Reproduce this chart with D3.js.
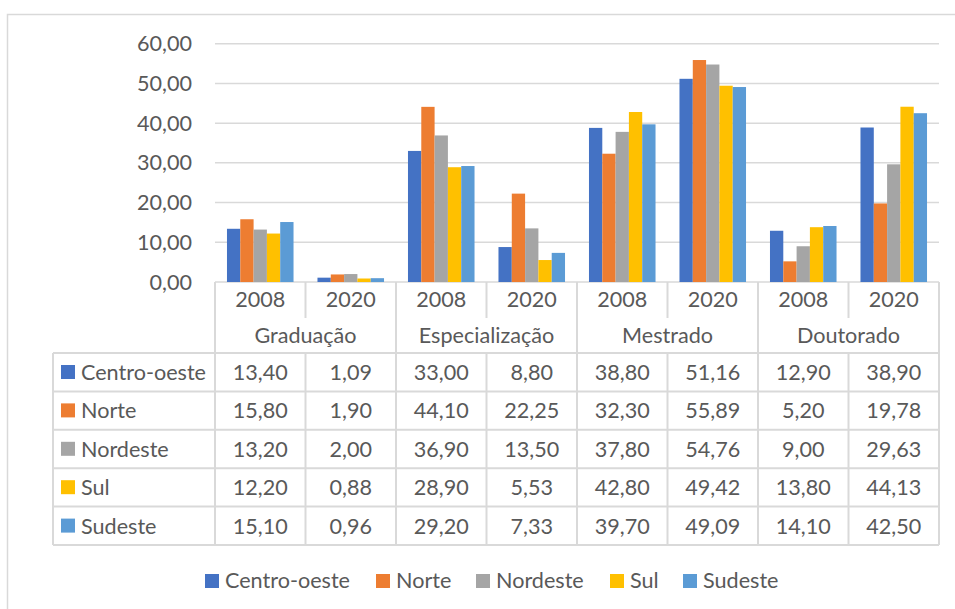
<!DOCTYPE html>
<html>
<head>
<meta charset="utf-8">
<script src="https://cdn.jsdelivr.net/npm/d3@7"></script>
<style>
  body { margin: 0; background: #fff; }
  svg { display: block; font-family: Lato, "Liberation Sans", sans-serif; }
</style>
</head>
<body>
<div id="chart"></div>
<script>
// Chart data
const levels = ['Graduação', 'Especialização', 'Mestrado', 'Doutorado'];
const years = ['2008', '2020'];
const regions = ['Centro-oeste', 'Norte', 'Nordeste', 'Sul', 'Sudeste'];
const centroOeste = [13.40, 1.09, 33.00, 8.80, 38.80, 51.16, 12.90, 38.90];
const norte = [15.80, 1.90, 44.10, 22.25, 32.30, 55.89, 5.20, 19.78];
const nordeste = [13.20, 2.00, 36.90, 13.50, 37.80, 54.76, 9.00, 29.63];
const sul = [12.20, 0.88, 28.90, 5.53, 42.80, 49.42, 13.80, 44.13];
const sudeste = [15.10, 0.96, 29.20, 7.33, 39.70, 49.09, 14.10, 42.50];
const yTicks = [0, 10, 20, 30, 40, 50, 60];
const colors = ['#4472C4', '#ED7D31', '#A5A5A5', '#FFC000', '#5B9BD5'];

const seriesValues = [centroOeste, norte, nordeste, sul, sudeste];
const columns = levels.flatMap(l => years.map(y => ({ level: l, year: y, key: l + '|' + y })));

const W = 955, H = 609;
const fontSize = 21.6;
const textColor = '#595959';
const lineColor = '#D9D9D9';
const fmt = v => d3.format('.2f')(v).replace('.', ',');

const plot = { left: 215, right: 939, top: 43.7, bottom: 282 };
const yearRowH = 36, levelRowH = 35, rowH = 38.4;
const tableLeft = 53;

const svg = d3.select('#chart').append('svg')
  .attr('width', W).attr('height', H);

// Outer chart frame
svg.append('rect')
  .attr('x', 7.5).attr('y', 14.5)
  .attr('width', W + 10).attr('height', H + 10)
  .attr('fill', 'none').attr('stroke', lineColor).attr('stroke-width', 1.5);

const x = d3.scaleBand().domain(columns.map(c => c.key)).range([plot.left, plot.right]);
const xs = d3.scaleBand().domain(regions).range([0, x.bandwidth()]).paddingOuter(0.9);
const y = d3.scaleLinear().domain([0, 60]).range([plot.bottom, plot.top]);

// Gridlines
svg.append('g').selectAll('line')
  .data(yTicks)
  .join('line')
  .attr('x1', plot.left).attr('x2', plot.right)
  .attr('y1', d => y(d)).attr('y2', d => y(d))
  .attr('stroke', lineColor).attr('stroke-width', 1.5);

// Y axis labels
svg.append('g').selectAll('text')
  .data(yTicks)
  .join('text')
  .attr('x', 192).attr('y', d => y(d))
  .attr('dy', '0.35em')
  .attr('text-anchor', 'end')
  .attr('font-size', fontSize).attr('fill', textColor)
  .text(d => fmt(d));

// Bars
const barData = regions.flatMap((r, i) => seriesValues[i].map((v, j) => ({ region: r, idx: i, col: columns[j].key, value: v })));
svg.append('g').selectAll('rect')
  .data(barData)
  .join('rect')
  .attr('x', d => x(d.col) + xs(d.region))
  .attr('width', xs.bandwidth())
  .attr('y', d => y(d.value))
  .attr('height', d => y(0) - y(d.value))
  .attr('fill', d => colors[d.idx]);

// Data table
const tYear = plot.bottom, tLevel = tYear + yearRowH, tData = tLevel + levelRowH;
const tBottom = tData + rowH * regions.length;
const grid = svg.append('g').attr('stroke', lineColor).attr('stroke-width', 2);

// vertical lines
columns.forEach((c, i) => {
  const xx = x(c.key);
  grid.append('line').attr('x1', xx).attr('x2', xx)
    .attr('y1', tYear).attr('y2', i % 2 === 0 ? tBottom : tLevel);
  if (i % 2 === 1) {
    grid.append('line').attr('x1', xx).attr('x2', xx).attr('y1', tData).attr('y2', tBottom);
  }
});
grid.append('line').attr('x1', plot.right).attr('x2', plot.right).attr('y1', tYear).attr('y2', tBottom);
grid.append('line').attr('x1', tableLeft).attr('x2', tableLeft).attr('y1', tData).attr('y2', tBottom);

// horizontal lines
d3.range(regions.length + 1).forEach(i => {
  const yy = tData + i * rowH;
  grid.append('line').attr('x1', tableLeft).attr('x2', plot.right).attr('y1', yy).attr('y2', yy);
});

// Year labels
svg.append('g').selectAll('text')
  .data(columns)
  .join('text')
  .attr('x', d => x(d.key) + x.bandwidth() / 2)
  .attr('y', tYear + 25)
  .attr('text-anchor', 'middle')
  .attr('font-size', fontSize).attr('fill', textColor)
  .text(d => d.year);

// Level labels
svg.append('g').selectAll('text')
  .data(levels)
  .join('text')
  .attr('x', (d, i) => x(columns[i * 2].key) + x.bandwidth())
  .attr('y', tLevel + 25)
  .attr('text-anchor', 'middle')
  .attr('font-size', fontSize).attr('fill', textColor)
  .text(d => d);

// Row headers with keys
const rows = svg.append('g').selectAll('g')
  .data(regions)
  .join('g')
  .attr('transform', (d, i) => `translate(0,${tData + i * rowH})`);
rows.append('rect')
  .attr('x', 61).attr('y', 12).attr('width', 14).attr('height', 14)
  .attr('fill', (d, i) => colors[i]);
rows.append('text')
  .attr('x', 81).attr('y', 27)
  .attr('font-size', fontSize).attr('fill', textColor)
  .text(d => d);

// Cell values
rows.each(function (r, i) {
  d3.select(this).selectAll('text.val')
    .data(seriesValues[i])
    .join('text')
    .attr('class', 'val')
    .attr('x', (d, j) => x(columns[j].key) + x.bandwidth() / 2)
    .attr('y', 27)
    .attr('text-anchor', 'middle')
    .attr('font-size', fontSize).attr('fill', textColor)
    .text(d => fmt(d));
});

// Legend
const legendX = [205, 376, 476, 610, 683];
const legend = svg.append('g').selectAll('g')
  .data(regions)
  .join('g')
  .attr('transform', (d, i) => `translate(${legendX[i]},574)`);
legend.append('rect')
  .attr('width', 14).attr('height', 14)
  .attr('fill', (d, i) => colors[i]);
legend.append('text')
  .attr('x', 20).attr('y', 14)
  .attr('font-size', fontSize).attr('fill', textColor)
  .text(d => d);
</script>
</body>
</html>
